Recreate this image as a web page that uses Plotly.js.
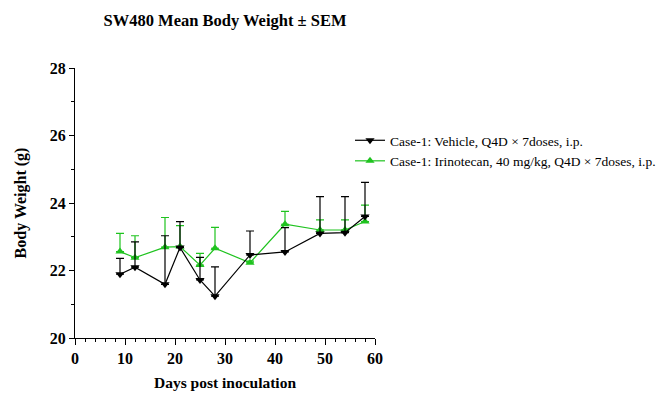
<!DOCTYPE html>
<html>
<head>
<meta charset="utf-8">
<script src="https://cdn.plot.ly/plotly-3.0.1.min.js"></script>
<style>
  html, body { margin: 0; padding: 0; background: #fff; }
  #chart { width: 666px; height: 420px; }
</style>
</head>
<body>
<div id="chart"></div>
<script>
// Study days
const days = [9, 12, 18, 21, 25, 28, 35, 42, 49, 54, 58];

// Vehicle group: mean body weight (g) and SEM
const vehicleMean = [21.89, 22.10, 21.59, 22.68, 21.72, 21.24, 22.46, 22.55, 23.10, 23.12, 23.60];
const vehicleSem  = [0.47, 0.75, 1.44, 0.77, 0.67, 0.87, 0.71, 0.72, 1.09, 1.07, 1.01];

// Irinotecan group: mean body weight (g) and SEM
const irinoMean = [22.56, 22.38, 22.69, 22.71, 22.16, 22.66, 22.23, 23.37, 23.20, 23.20, 23.45];
const irinoSem  = [0.54, 0.65, 0.88, 0.62, 0.35, 0.62, 0.05, 0.38, 0.30, 0.30, 0.49];

// Axis tick values and labels
const xTicks = [0, 10, 20, 30, 40, 50, 60];
const yTicks = [20, 22, 24, 26, 28];

const vehicleName = "Case-1: Vehicle, Q4D \u00d7 7doses, i.p.";
const irinoName = "Case-1: Irinotecan, 40 mg/kg, Q4D \u00d7 7doses, i.p.";

const zeros = n => new Array(n).fill(0);
const bold = v => "<b>" + v + "</b>";
const serif = "Liberation Serif, Times New Roman, serif";
const green = "#1fc31f";

const traces = [
  {
    x: days, y: irinoMean, name: irinoName,
    type: "scatter", mode: "lines+markers",
    line: { color: green, width: 1.2 },
    marker: { symbol: "triangle-up", size: 8, color: green },
    error_y: { type: "data", array: irinoSem, arrayminus: zeros(days.length),
               symmetric: false, color: green, thickness: 1.2, width: 4 }
  },
  {
    x: days, y: vehicleMean, name: vehicleName,
    type: "scatter", mode: "lines+markers",
    line: { color: "#000", width: 1.2 },
    marker: { symbol: "triangle-down", size: 8, color: "#000" },
    error_y: { type: "data", array: vehicleSem, arrayminus: zeros(days.length),
               symmetric: false, color: "#000", thickness: 1.2, width: 4 }
  }
];

const layout = {
  width: 666, height: 420,
  margin: { l: 75, r: 291, t: 68, b: 82, autoexpand: false },
  paper_bgcolor: "#fff", plot_bgcolor: "#fff",
  font: { family: serif, color: "#000" },
  showlegend: true,
  title: {
    text: "<b>SW480 Mean Body Weight \u00b1 SEM</b>",
    font: { family: serif, size: 16.5, color: "#000" },
    x: (75 + 375) / 2 / 666, xanchor: "center",
    y: 1 - 20 / 420, yanchor: "middle"
  },
  xaxis: {
    range: [0, 60], tickvals: xTicks, ticktext: xTicks.map(bold),
    showgrid: false, zeroline: false,
    showline: true, linecolor: "#000", linewidth: 1,
    ticks: "outside", ticklen: 6, tickwidth: 1, tickcolor: "#000",
    minor: { dtick: 2, ticks: "outside", ticklen: 3, tickwidth: 1, tickcolor: "#000", showgrid: false },
    tickfont: { family: serif, size: 16, color: "#000" },
    title: { text: "<b>Days post inoculation</b>", font: { family: serif, size: 15.5, color: "#000" }, standoff: 10 }
  },
  yaxis: {
    range: [20, 28], tickvals: yTicks, ticktext: yTicks.map(bold),
    showgrid: false, zeroline: false,
    showline: true, linecolor: "#000", linewidth: 1,
    ticks: "outside", ticklen: 5, tickwidth: 1, tickcolor: "#000",
    minor: { dtick: 1, ticks: "outside", ticklen: 3, tickwidth: 1, tickcolor: "#000", showgrid: false },
    tickfont: { family: serif, size: 16, color: "#000" },
    title: { text: "<b>Body Weight (g)</b>", font: { family: serif, size: 16, color: "#000" }, standoff: 19 }
  },
  legend: {
    x: (350 - 75) / 300, xanchor: "left",
    y: (338 - 125) / 270, yanchor: "top",
    traceorder: "reversed",
    bgcolor: "rgba(0,0,0,0)",
    font: { family: serif, size: 13.5, color: "#000" },
    tracegroupgap: 0
  }
};

Plotly.newPlot("chart", traces, layout, { displayModeBar: false, staticPlot: true });
</script>
</body>
</html>
